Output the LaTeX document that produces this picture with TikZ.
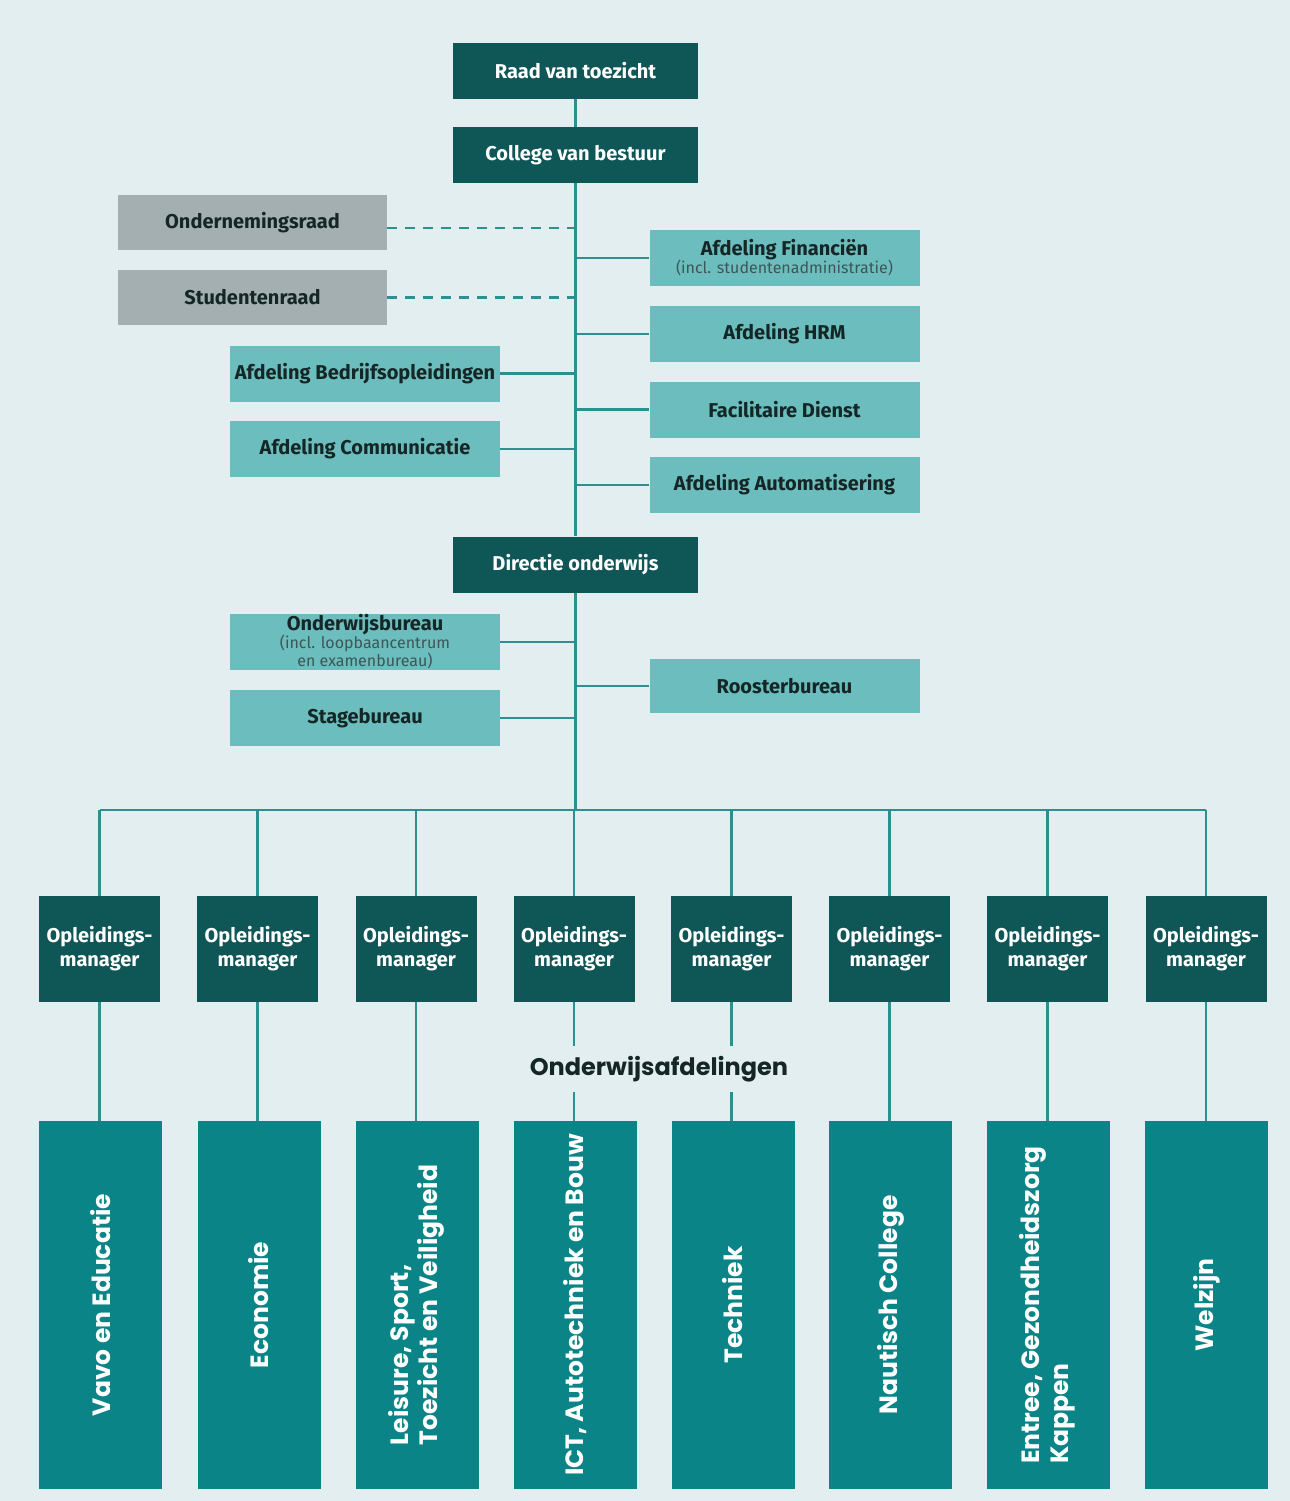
\documentclass[tikz,border=0pt]{standalone}
\usepackage{fontspec}
\setmainfont{Fira Sans}
\newfontfamily\popp{Poppins}
\definecolor{bgc}{HTML}{E3EEF0}
\definecolor{darkc}{HTML}{0F5657}
\definecolor{ltealc}{HTML}{6CBDBE}
\definecolor{grayc}{HTML}{A3AFB0}
\definecolor{deptc}{HTML}{0A8486}
\definecolor{linec}{HTML}{2D8F8F}
\definecolor{txtc}{HTML}{152626}
\definecolor{subc}{HTML}{3E5656}
\begin{document}
\begin{tikzpicture}[x=0.5pt,y=-0.5pt,
  box/.style={inner sep=0pt, align=center, font=\bfseries\fontsize{10}{12}\selectfont},
  darkbox/.style={box, fill=darkc, text=white, minimum width=122.5pt, minimum height=28pt},
  graybox/.style={box, fill=grayc, text=txtc, minimum width=134.5pt, minimum height=27.5pt},
  lightbox/.style={box, fill=ltealc, text=txtc, minimum width=135pt, minimum height=28pt},
  mgr/.style={box, fill=darkc, text=white, minimum width=60.5pt, minimum height=53pt},
  dept/.style={fill=deptc, text=white, minimum width=61.5pt, minimum height=184pt, inner sep=0pt, font=\popp\bfseries\fontsize{12.5}{14.5}\selectfont},
  conn/.style={draw=linec, line width=1.3pt},
  dconn/.style={conn, dash pattern=on 5pt off 4pt},
  subfont/.style={}]
\fill[bgc] (0,0) rectangle (1290,1501);
\useasboundingbox (0,0) rectangle (1290,1501);

% top
\node[darkbox] (raad) at (575.5,71) {Raad van toezicht};
\node[darkbox] (college) at (575.5,155) {College van bestuur};
\node[graybox] (ondern) at (252.5,222.5) {Ondernemingsraad};
\node[graybox] (student) at (252.5,297.5) {Studentenraad};
\node[lightbox] (fin) at (784.5,258) {Afdeling Financiën\\[-3pt]{\mdseries\color{subc}\fontsize{8}{9}\selectfont (incl. studentenadministratie)}};
\node[lightbox] (hrm) at (784.5,334) {Afdeling HRM};
\node[lightbox] (fac) at (784.5,409.5) {Facilitaire Dienst};
\node[lightbox] (auto) at (784.5,485) {Afdeling Automatisering};
\node[lightbox] (bedr) at (365,373.5) {Afdeling Bedrijfsopleidingen};
\node[lightbox] (comm) at (365,449) {Afdeling Communicatie};
\node[darkbox] (dir) at (575.5,564.5) {Directie onderwijs};
\node[lightbox] (owb) at (365,642) {Onderwijsbureau\\[-3pt]{\mdseries\color{subc}\fontsize{8}{9}\selectfont (incl. loopbaancentrum}\\[-3pt]{\mdseries\color{subc}\fontsize{8}{9}\selectfont en examenbureau)}};
\node[lightbox] (stage) at (365,718) {Stagebureau};
\node[lightbox, minimum height=27pt] (rooster) at (784.5,686) {Roosterbureau};

% managers and departments
\foreach \i/\x in {1/99.5,2/257.5,3/416,4/574,5/731.5,6/889.5,7/1047.5,8/1206}{
  \node[mgr] (m\i) at (\x,949) {Opleidings-\\manager};
}
\node[dept] (d1) at (100.5,1305) {\rotatebox{90}{Vavo en Educatie}};
\node[dept] (d2) at (259,1305) {\rotatebox{90}{Economie}};
\node[dept] (d3) at (417,1305) {\rotatebox{90}{\begin{tabular}{@{}l@{}}Leisure, Sport,\\Toezicht en Veiligheid\end{tabular}}};
\node[dept] (d4) at (575,1305) {\rotatebox{90}{ICT, Autotechniek en Bouw}};
\node[dept] (d5) at (733,1305) {\rotatebox{90}{Techniek}};
\node[dept] (d6) at (890.5,1305) {\rotatebox{90}{Nautisch College}};
\node[dept] (d7) at (1048.5,1305) {\rotatebox{90}{\begin{tabular}{@{}l@{}}Entree, Gezondheidszorg\\Kappen\end{tabular}}};
\node[dept] (d8) at (1206.5,1305) {\rotatebox{90}{Welzijn}};

% connectors
\coordinate (bus) at (0,810);
\draw[conn] (raad.south) -- (college.north);
\draw[conn] (college.south) -- (dir.north);
\draw[conn] (dir.south) -- (dir.south |- bus);
\draw[conn] (m1.north |- bus) -- (m8.north |- bus);
\foreach \i in {1,...,8}{
  \draw[conn] (m\i.north) -- (m\i.north |- bus);
  \draw[conn] (m\i.south) -- (m\i.south |- d\i.north);
}
\draw[dconn] ([yshift=-2.75pt]ondern.east) -- ([yshift=-2.75pt]ondern.east -| college.south);
\draw[dconn] (student.east) -- (student.east -| college.south);
\foreach \n in {fin,hrm,fac,auto,rooster}{
  \draw[conn] (\n.west) -- (\n.west -| college.south);
}
\foreach \n in {bedr,comm}{
  \draw[conn] (\n.east) -- (\n.east -| college.south);
}
\foreach \n in {owb,stage}{
  \draw[conn] (\n.east) -- (\n.east -| dir.south);
}
\node[fill=bgc, inner xsep=2pt, inner ysep=5pt, text=txtc, font=\popp\bfseries\fontsize{12}{14}\selectfont] (lbl) at (659,1069) {Onderwijsafdelingen};
\end{tikzpicture}
\end{document}
